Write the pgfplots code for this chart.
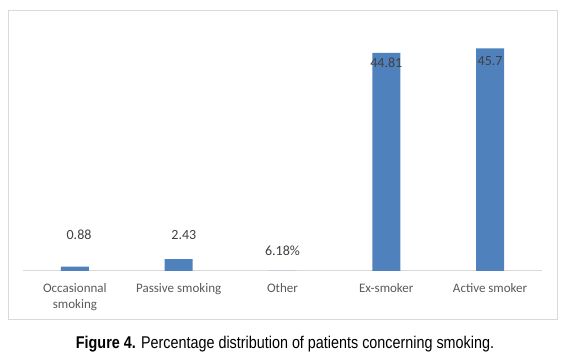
\documentclass[border=0pt]{standalone}
\usepackage{fontspec}
\setmainfont{Carlito}
\newfontfamily\capfont[FakeStretch=0.845]{Liberation Sans}
\usepackage{pgfplots}
\pgfplotsset{compat=1.18}
\definecolor{barblue}{HTML}{4F81BD}
\definecolor{labgray}{HTML}{404040}
\definecolor{tickgray}{HTML}{595959}
\definecolor{linegray}{HTML}{D9D9D9}
\begin{document}
\begin{tikzpicture}
\path[use as bounding box] (0pt,0pt) rectangle (566pt,359pt);
\draw[linegray, line width=1pt] (8pt,39pt) rectangle (557pt,348pt);
\begin{axis}[
  at={(23pt,88pt)}, anchor=south west,
  scale only axis,
  width=519pt, height=243.5pt,
  xmin=-0.5, xmax=4.5, ymin=0, ymax=50,
  axis x line=bottom, axis y line=none,
  x axis line style={-, draw=linegray, line width=1pt},
  major tick length=0pt,
  xtick={0,1,2,3,4},
  xticklabels={{Occasionnal\\smoking},{Passive smoking},{Other},{Ex-smoker},{Active smoker}},
  xticklabel style={align=center, font=\fontsize{13}{16}\selectfont, text=tickgray, anchor=north, yshift=-9pt},
  clip=false,
]
\addplot[ybar, bar width=28pt, fill=barblue, draw=none] coordinates {(0,0.88) (1,2.43) (2,0) (3,44.81) (4,45.7)};
\addplot[draw=none, mark=none, nodes near coords, point meta=explicit symbolic,
  every node near coord/.append style={font=\fontsize{14}{16}\selectfont, text=labgray}]
  coordinates {(0.04,5.7) [0.88] (1.05,5.7) [2.43] (2.0,2.4) [6.18\%] (3.0,41.0) [44.81] (4.0,41.4) [45.7]};
\end{axis}
\node[anchor=base, font=\capfont\fontsize{17}{20}\selectfont] at (285pt,10pt) {\textbf{Figure 4.} Percentage distribution of patients concerning smoking.};
\end{tikzpicture}
\end{document}
